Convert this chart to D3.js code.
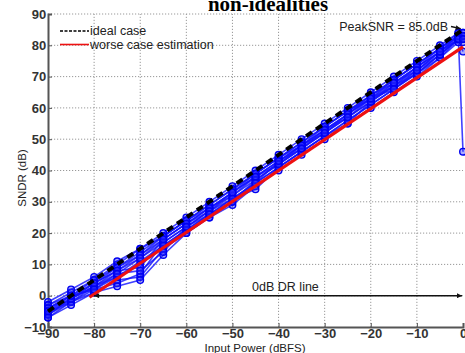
<!DOCTYPE html>
<html>
<head>
<meta charset="utf-8">
<script src="https://cdn.jsdelivr.net/npm/d3@7"></script>
<style>
  body { margin: 0; background: #fff; }
  svg { display: block; font-family: "Liberation Sans", Arial, sans-serif; }
</style>
</head>
<body>
<svg id="chart" width="465" height="353"></svg>
<script>
// input power steps used by the simulated runs (dBFS)
const inputPower = [-90, -85, -80, -75, -70, -65, -60, -55, -50, -45, -40, -35, -30, -25, -20, -15, -10, -5, -1, 0];

// simulated SNDR runs, one list per run (dB)
const run1 = [-3, 1, 5, 10, 15, 20, 25, 30, 35, 40, 45, 50, 55, 60, 65, 70, 75, 80, 84, 84];
const run2 = [-4, 0, 4, 9, 14, 19, 24, 29, 34, 39, 44, 49, 54, 59, 64, 69, 74, 79, 83, 83];
const run3 = [-5, -1, 3, 8, 13, 18, 23, 28, 33, 38, 43, 48, 53, 58, 63, 68, 73, 78, 83, 82];
const run4 = [-6, -1, 3, 7, 12, 17, 22, 27, 32, 37, 42, 47, 52, 57, 62, 67, 72, 77, 82, 78];
const run5 = [-7, -2, 2, 6, 10, 16, 21, 26, 31, 36, 41, 46, 51, 56, 61, 66, 71, 76, 82, 46];
const run6 = [-5, -2, 1, 5, 6, 15, 20, 25, 29, 35, 40, 45, 50, 55, 60, 65, 70, 76, 81, 81];
const run7 = [-4, 0, 2, 4, 7, 17, 22, 27, 31, 34, 41, 46, 51, 55, 62, 67, 71, 77, 82, 82];
const run8 = [-6, -1, 4, 8, 9, 18, 23, 28, 32, 38, 43, 48, 52, 58, 63, 67, 73, 78, 83, 83];
const run9 = [-2, 2, 6, 11, 15, 19, 24, 29, 34, 39, 44, 49, 54, 59, 64, 69, 74, 79, 84, 84];
const run10 = [-6, -2, 3, 6, 11, 16, 21, 26, 30, 36, 41, 46, 51, 56, 61, 66, 71, 77, 82, 82];
const run11 = [-3, 0, 5, 9, 13, 19, 24, 28, 33, 39, 44, 48, 54, 59, 63, 69, 74, 79, 83, 83];
const run12 = [-7, -3, 1, 3, 5, 13, 20, 25, 30, 37, 42, 47, 53, 57, 62, 68, 72, 78, 82, 82];
const run13 = [-4, -1, 4, 8, 12, 18, 23, 27, 33, 38, 42, 48, 53, 58, 64, 68, 73, 79, 83, 83];
const run14 = [-5, 0, 2, 7, 8, 14, 22, 26, 31, 36, 43, 47, 52, 57, 63, 66, 72, 78, 82, 82];
const runs = [run1, run2, run3, run4, run5, run6, run7, run8, run9, run10, run11, run12, run13, run14];

// ideal case and worst case estimate (two end points each)
const idealX = [-90, 0];
const idealY = [-5, 85];
const worstX = [-81, 0];
const worstY = [-0.5, 79.5];

// 0dB DR line, from the worst case zero crossing to full scale
const drX = [-80, 0];

const xTicks = [-90, -80, -70, -60, -50, -40, -30, -20, -10, 0];
const yTicks = [-10, 0, 10, 20, 30, 40, 50, 60, 70, 80, 90];

const peakSNR = 85.0;

var svg = d3.select("#chart");

var x = d3.scaleLinear().domain([-90, 0]).range([48, 463]);
var y = d3.scaleLinear().domain([-10, 90]).range([327, 14]);

// markers
var defs = svg.append("defs");
defs.append("marker")
    .attr("id", "arrowR")
    .attr("viewBox", "0 0 10 10")
    .attr("refX", 10).attr("refY", 5)
    .attr("markerWidth", 7).attr("markerHeight", 5)
    .attr("markerUnits", "userSpaceOnUse")
    .attr("orient", "auto")
    .append("path").attr("d", "M0,0L10,5L0,10Z").attr("fill", "#111");
defs.append("marker")
    .attr("id", "arrowL")
    .attr("viewBox", "0 0 10 10")
    .attr("refX", 10).attr("refY", 5)
    .attr("markerWidth", 7).attr("markerHeight", 5)
    .attr("markerUnits", "userSpaceOnUse")
    .attr("orient", "auto-start-reverse")
    .append("path").attr("d", "M0,0L10,5L0,10Z").attr("fill", "#111");

// grid
var grid = svg.append("g").attr("class", "grid")
    .attr("stroke", "#999").attr("stroke-width", 1).attr("stroke-dasharray", "1.2,1.8");
grid.selectAll("line.gx").data(xTicks.slice(1, -1)).enter().append("line")
    .attr("x1", d => x(d)).attr("x2", d => x(d))
    .attr("y1", y(-10)).attr("y2", y(90));
grid.selectAll("line.gy").data(yTicks.slice(1)).enter().append("line")
    .attr("x1", x(-90)).attr("x2", x(0))
    .attr("y1", d => y(d)).attr("y2", d => y(d));

// axes
var xAxis = svg.append("g")
    .attr("transform", "translate(0," + y(-10) + ")")
    .call(d3.axisBottom(x).tickValues(xTicks).tickSize(-4).tickPadding(4).tickFormat(d3.format("d")));
var yAxis = svg.append("g")
    .attr("transform", "translate(" + x(-90) + ",0)")
    .call(d3.axisLeft(y).tickValues(yTicks).tickSize(-4).tickPadding(3).tickFormat(d3.format("d")));
[xAxis, yAxis].forEach(function(a) {
    a.select(".domain").attr("stroke", "#555").attr("stroke-width", 2);
    a.selectAll(".tick line").attr("stroke", "#555");
    a.selectAll("text")
        .attr("font-size", 13).attr("font-weight", "bold").attr("fill", "#333")
        .attr("font-family", "Liberation Sans, Arial, sans-serif");
});
xAxis.selectAll("text").attr("dy", "0.55em");
yAxis.selectAll("text").attr("dx", "0.1em");

// simulated runs
var line = d3.line().x((d, i) => x(inputPower[i])).y(d => y(d));
var runG = svg.append("g");
runG.selectAll("path").data(runs).enter().append("path")
    .attr("d", line)
    .attr("fill", "none")
    .attr("stroke", "#1010ff")
    .attr("stroke-opacity", 0.8)
    .attr("stroke-width", 1.6);
runs.forEach(function(r) {
    runG.append("g").selectAll("circle").data(r).enter().append("circle")
        .attr("cx", (d, i) => x(inputPower[i]))
        .attr("cy", d => y(d))
        .attr("r", 3.3)
        .attr("fill", "#2b2bff")
        .attr("fill-opacity", 0.4)
        .attr("stroke", "#0000f0")
        .attr("stroke-width", 1.4);
});

// ideal case
var pairLine = d3.line().x(d => x(d[0])).y(d => y(d[1]));
svg.append("path")
    .attr("d", pairLine(d3.zip(idealX, idealY)))
    .attr("fill", "none").attr("stroke", "#000")
    .attr("stroke-width", 4).attr("stroke-dasharray", "7,5");

// worst case estimation
svg.append("path")
    .attr("d", pairLine(d3.zip(worstX, worstY)))
    .attr("fill", "none").attr("stroke", "#ee1111")
    .attr("stroke-width", 3.2);

// 0dB DR line
svg.append("line")
    .attr("x1", x(drX[0])).attr("x2", x(drX[1]) - 1)
    .attr("y1", y(0)).attr("y2", y(0))
    .attr("stroke", "#111").attr("stroke-width", 1.6)
    .attr("marker-start", "url(#arrowL)")
    .attr("marker-end", "url(#arrowR)");
svg.append("text")
    .attr("x", x(-38.5)).attr("y", y(0) - 5)
    .attr("text-anchor", "middle").attr("font-size", 12.5).attr("fill", "#222")
    .text("0dB DR line");

// peak annotation
svg.append("text")
    .attr("x", 448).attr("y", 31)
    .attr("text-anchor", "end").attr("font-size", 12.5).attr("fill", "#222")
    .text("PeakSNR = " + peakSNR.toFixed(1) + "dB");
svg.append("line")
    .attr("x1", 451).attr("y1", 26.5)
    .attr("x2", x(-0.5)).attr("y2", y(peakSNR) - 1)
    .attr("stroke", "#111").attr("stroke-width", 1.4)
    .attr("marker-end", "url(#arrowR)");

// legend
var legend = svg.append("g");
legend.append("line").attr("x1", 60).attr("x2", 89).attr("y1", 31).attr("y2", 31)
    .attr("stroke", "#000").attr("stroke-width", 1.3).attr("stroke-dasharray", "3,1.5");
legend.append("text").attr("x", 90).attr("y", 35).attr("font-size", 12.5).attr("fill", "#222")
    .text("ideal case");
legend.append("line").attr("x1", 60).attr("x2", 89).attr("y1", 44.5).attr("y2", 44.5)
    .attr("stroke", "#ee1111").attr("stroke-width", 1.6);
legend.append("text").attr("x", 90).attr("y", 49).attr("font-size", 12.5).attr("fill", "#222")
    .text("worse case estimation");

// axis titles
svg.append("text")
    .attr("x", 255).attr("y", 352)
    .attr("text-anchor", "middle").attr("font-size", 11.5).attr("fill", "#222")
    .text("Input Power (dBFS)");
svg.append("text")
    .attr("transform", "translate(26,178) rotate(-90)")
    .attr("text-anchor", "middle").attr("font-size", 11.5).attr("fill", "#222")
    .text("SNDR (dB)");

// title (cut at the top of the picture)
svg.append("text")
    .attr("x", 268).attr("y", 11)
    .attr("text-anchor", "middle")
    .attr("font-family", "Liberation Serif, Times New Roman, serif")
    .attr("font-weight", "bold").attr("font-size", 21).attr("fill", "#000")
    .text("non-idealities");
</script>
</body>
</html>
